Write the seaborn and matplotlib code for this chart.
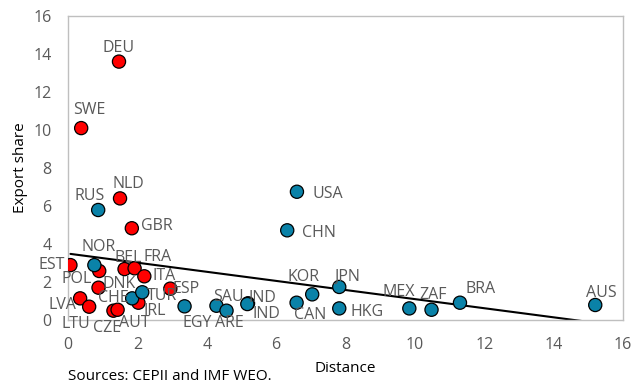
import numpy as np
import pandas as pd
import seaborn as sns
import matplotlib
matplotlib.use("Agg")
import matplotlib.pyplot as plt

# -----------------------------
# Data
# -----------------------------
red_names = ["DEU", "SWE", "NLD", "GBR", "EST", "POL", "BEL", "FRA",
             "ITA", "DNK", "ESP", "IRL", "LVA", "LTU", "CZE", "AUT"]
red_dist = [1.47, 0.38, 1.50, 1.84, 0.07, 0.90, 1.63, 1.92,
            2.20, 0.88, 2.95, 2.03, 0.35, 0.61, 1.31, 1.43]
red_share = [13.6, 10.1, 6.4, 4.83, 2.89, 2.58, 2.68, 2.72,
             2.30, 1.70, 1.65, 0.91, 1.14, 0.70, 0.49, 0.54]

blue_names = ["RUS", "NOR", "USA", "CHN", "CHE", "TUR", "EGY", "SAU", "ARE",
              "IND", "IND", "KOR", "CAN", "JPN", "HKG", "MEX", "ZAF", "BRA", "AUS"]
blue_dist = [0.87, 0.76, 6.60, 6.32, 1.85, 2.14, 3.36, 4.28, 4.57,
             5.19, 5.17, 7.04, 6.59, 7.82, 7.82, 9.84, 10.48, 11.30, 15.2]
blue_share = [5.79, 2.89, 6.75, 4.72, 1.14, 1.46, 0.72, 0.75, 0.49,
              0.88, 0.84, 1.35, 0.91, 1.74, 0.61, 0.61, 0.54, 0.91, 0.79]

# label offsets in pixels (dx, dy with dy downwards), one per point
red_offsets = [(0, -14), (8, -18), (8, -14), (25, -2), (-19, 0), (-23, 8), (4, -11), (23, -11),
               (20, 0), (21, -4), (16, 0), (16, 8), (-18, 7), (-13, 17), (-6, 17), (17, 13)]
blue_offsets = [(-9, -14), (4, -18), (31, 2), (32, 3), (-19, 0), (20, 4), (13, 17), (12, -9), (3, 12),
                (14, -5), (19, 10), (-9, -17), (14, 12), (8, -10), (28, 4), (-11, -16), (2, -15), (21, -14), (6, -12)]

df = pd.DataFrame({
    "name": red_names + blue_names,
    "Distance": red_dist + blue_dist,
    "Export share": red_share + blue_share,
    "group": ["red"] * len(red_names) + ["blue"] * len(blue_names),
})
offsets = red_offsets + blue_offsets

sns.set_style("white")
plt.rcParams["font.family"] = ["Open Sans", "DejaVu Sans"]

fig = plt.figure(figsize=(6.31, 3.84), dpi=100)
ax = fig.add_axes([68 / 631, 1 - 320 / 384, 555 / 631, 304 / 384])

# linear trend line over the data range
sns.regplot(data=df, x="Distance", y="Export share", scatter=False, ci=None,
            truncate=True, color="black", line_kws={"linewidth": 1.5}, ax=ax)
sns.scatterplot(data=df, x="Distance", y="Export share", hue="group",
                palette={"red": "#FF0000", "blue": "#0A82A8"},
                s=90, edgecolor="black", linewidth=0.9, legend=False, ax=ax, zorder=3)

label_color = "#595959"
for (nm, xv, yv), (dx, dy) in zip(df[["name", "Distance", "Export share"]].values, offsets):
    ax.annotate(nm, (xv, yv), xytext=(dx, -dy), textcoords="offset pixels",
                ha="center", va="center", fontsize=11.5, color=label_color, zorder=4)

ax.set_xlim(0, 16)
ax.set_ylim(0, 16)
ax.set_xticks(range(0, 17, 2))
ax.set_yticks(range(0, 17, 2))
for sp in ax.spines.values():
    sp.set_color("#BFBFBF")
    sp.set_linewidth(1)
ax.tick_params(axis="x", direction="in", length=4, color="#BFBFBF", labelsize=11.5,
               labelcolor=label_color, pad=12)
ax.tick_params(axis="y", direction="out", length=4, color="#BFBFBF", labelsize=11.5,
               labelcolor=label_color, pad=8)
ax.set_xlabel("Distance", fontsize=11, color="black", labelpad=6)
ax.set_ylabel("Export share", fontsize=11, color="black", labelpad=4)

fig.text(68 / 631, 1 - 377 / 384, "Sources: CEPII and IMF WEO.", fontsize=11,
         color="black", ha="left", va="center")

fig.savefig("out.png", dpi=100)
